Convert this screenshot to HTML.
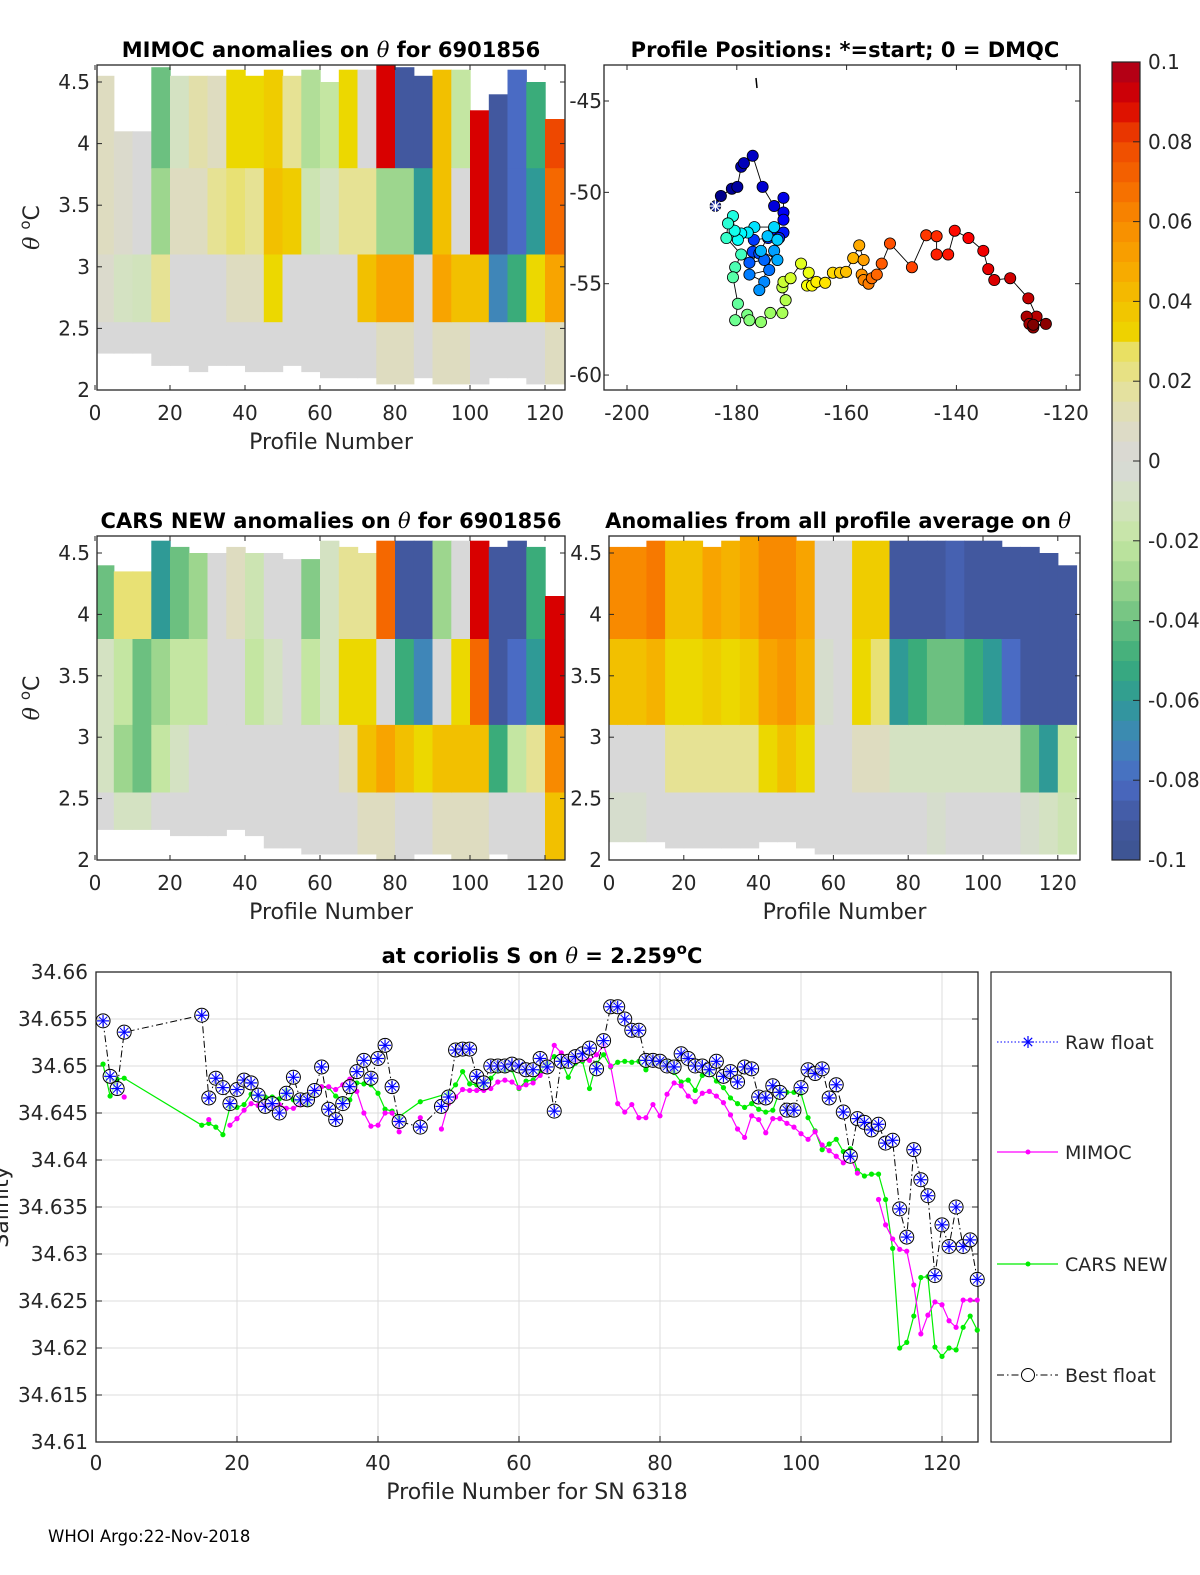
<!DOCTYPE html>
<html><head><meta charset="utf-8"><title>Argo float 6901856 anomalies</title>
<style>
html,body{margin:0;padding:0;background:#fff;overflow:hidden;}
svg{display:block;font-family:"DejaVu Sans","Liberation Sans",sans-serif;}
.tk{font-size:20px;fill:#262626;}
.ttl{font-size:21px;font-weight:bold;fill:#000;}
.lbl{font-size:22px;fill:#262626;}
.lg{font-size:19px;fill:#262626;}
</style></head>
<body>
<svg id="fig" width="1200" height="1575" viewBox="0 0 1200 1575" xmlns="http://www.w3.org/2000/svg">
<rect x="0" y="0" width="1200" height="1575" fill="#fff"/>
<g id="p1"></g>
<g id="p2"></g>
<g id="cb"></g>
<g id="p3"></g>
<g id="p4"></g>
<g id="p5"></g>
<text x="48" y="1542" style="font-size:16.5px;fill:#000">WHOI Argo:22-Nov-2018</text>
</svg>
<script>
// ---------- heatmap data (blocks of 5 profiles; rows: top band, mid band, lower band, bottom band) ----------
const mimocUp  = [0.01,0.005,0.0,-0.04,-0.01,0.015,0.01,0.03,0.03,0.035,0.02,-0.025,-0.02,0.03,0.0,0.09,-0.09,-0.09,0.04,-0.02,0.09,-0.09,-0.08,-0.05,0.08];
const mimocMid = [0.01,0.005,0.0,-0.03,0.01,0.01,0.02,0.025,0.02,0.04,0.035,-0.015,-0.01,0.02,0.02,-0.03,-0.03,-0.06,0.04,0.0,0.09,-0.09,-0.08,-0.06,0.07];
const mimocLow = [0.005,-0.01,-0.012,0.02,0.0,0.0,0.0,0.01,0.01,0.03,0.0,0.0,0.0,0.0,0.04,0.05,0.05,0.0,0.05,0.04,0.04,-0.07,-0.05,0.03,0.05];
const mimocBot = [0,0,0,0,0,0,0,0,0,0,0,0,0,0,0,0.01,0.01,0,0.01,0.01,0,0,0,0,0.01];
const mimocTop = [4.55,4.1,4.1,4.62,4.55,4.55,4.55,4.6,4.55,4.6,4.55,4.6,4.5,4.6,4.6,4.65,4.62,4.55,4.6,4.6,4.27,4.4,4.6,4.5,4.2];
const mimocBottom = [2.3,2.3,2.3,2.2,2.2,2.15,2.2,2.2,2.15,2.15,2.2,2.15,2.1,2.1,2.1,2.05,2.05,2.1,2.05,2.05,2.05,2.1,2.1,2.05,2.05];

const carsUp  = [-0.04,0.025,0.025,-0.06,-0.04,-0.03,0.0,0.01,-0.015,0.0,0.0,-0.035,-0.01,0.02,0.02,0.07,-0.09,-0.09,-0.03,0.0,0.09,-0.09,-0.09,-0.05,0.09];
const carsMid = [-0.01,-0.02,-0.04,-0.03,-0.02,-0.02,0.0,0.0,-0.02,-0.01,0.0,-0.02,-0.01,0.03,0.03,0.0,-0.05,-0.07,0.0,0.03,0.07,-0.09,-0.08,-0.06,0.09];
const carsLow = [-0.01,-0.03,-0.04,-0.02,-0.01,0.0,0.0,0.0,0.0,0.0,0.0,0.0,0.0,0.01,0.04,0.05,0.04,0.03,0.04,0.04,0.04,-0.05,-0.02,0.02,0.06];
const carsBot = [0,-0.01,-0.01,0,0,0,0,0,0,0,0,0,0,0,0.01,0.01,0,0,0.01,0.01,0.01,0,0,0,0.04];
const carsTop = [4.4,4.35,4.35,4.6,4.55,4.5,4.5,4.55,4.5,4.5,4.45,4.45,4.6,4.55,4.5,4.6,4.6,4.6,4.6,4.6,4.6,4.55,4.6,4.55,4.15];
const carsBottom = [2.25,2.25,2.25,2.25,2.2,2.2,2.2,2.25,2.2,2.1,2.1,2.05,2.05,2.05,2.05,2.0,2.0,2.05,2.05,2.0,2.0,2.05,2.0,2.0,2.0];

const avgUp  = [0.06,0.06,0.065,0.04,0.04,0.05,0.045,0.05,0.06,0.06,0.05,0.0,0.0,0.035,0.035,-0.09,-0.09,-0.09,-0.085,-0.09,-0.09,-0.09,-0.09,-0.09,-0.09];
const avgMid = [0.04,0.04,0.045,0.03,0.03,0.035,0.03,0.035,0.05,0.055,0.045,-0.005,0.0,0.03,0.025,-0.06,-0.05,-0.04,-0.04,-0.05,-0.06,-0.08,-0.09,-0.09,-0.09];
const avgLow = [0.0,0.0,0.0,0.02,0.02,0.02,0.02,0.02,0.03,0.04,0.03,0.0,0.0,0.01,0.01,-0.01,-0.01,-0.01,-0.01,-0.01,-0.01,-0.01,-0.04,-0.06,-0.02];
const avgBot = [-0.005,-0.005,0,0,0,0,0,0,0,0,0,0,0,0,0,0,0,-0.005,0,0,0,0,-0.005,-0.01,-0.015];
const avgTop = [4.55,4.55,4.6,4.6,4.6,4.55,4.6,4.65,4.65,4.65,4.6,4.6,4.6,4.6,4.6,4.6,4.6,4.6,4.6,4.6,4.6,4.55,4.55,4.5,4.4];
const avgBottom = [2.15,2.15,2.15,2.1,2.1,2.1,2.1,2.1,2.15,2.15,2.1,2.05,2.05,2.05,2.05,2.05,2.05,2.05,2.05,2.05,2.05,2.05,2.05,2.05,2.05];

// ---------- map track data ----------
const trackLon = [-183.9,-182.9,-180.9,-179.9,-179.2,-178.7,-177.1,-175.3,-173.2,-171.5,-171.5,-171.5,-173.2,-171.5,-172.3,-174.3,-176.9,-177.1,-175.9,-177.7,-175.0,-174.1,-177.7,-175.0,-175.9,-173.2,-172.6,-175.6,-174.4,-172.6,-173.2,-176.8,-178.0,-179.2,-179.8,-180.4,-180.7,-181.6,-181.9,-179.2,-180.3,-180.7,-179.8,-180.3,-178.1,-177.7,-175.6,-173.9,-171.7,-171.1,-171.7,-171.5,-170.2,-168.3,-166.9,-167.2,-166.3,-165.5,-163.9,-162.5,-161.2,-160.1,-158.8,-157.7,-156.9,-157.25,-156.9,-156.0,-155.4,-154.5,-153.6,-152.1,-148.1,-145.5,-143.6,-143.6,-141.5,-140.3,-137.8,-135.1,-134.2,-133.1,-130.2,-126.9,-125.4,-127.2,-126.7,-126.0,-123.7,-126.0];
const trackLat = [-50.75,-50.2,-49.8,-49.7,-48.6,-48.4,-48.0,-49.7,-50.75,-50.3,-51.1,-51.5,-52.0,-52.2,-52.5,-52.5,-52.6,-53.25,-53.35,-53.85,-53.7,-54.25,-54.5,-54.9,-55.35,-53.2,-53.7,-53.2,-52.4,-52.6,-51.9,-51.9,-52.2,-52.25,-52.6,-52.1,-51.3,-51.7,-52.5,-53.4,-54.1,-54.65,-56.1,-57.0,-56.7,-57.0,-57.1,-56.6,-56.6,-55.9,-55.2,-54.9,-54.7,-53.9,-54.4,-55.1,-55.1,-54.9,-54.95,-54.4,-54.4,-54.35,-53.6,-52.9,-53.7,-54.5,-54.8,-55.0,-54.7,-54.5,-53.9,-52.8,-54.1,-52.35,-52.4,-53.4,-53.4,-52.1,-52.5,-53.2,-54.2,-54.8,-54.7,-55.8,-56.8,-56.8,-57.2,-57.4,-57.2,-57.25];

// ---------- salinity series (profiles 1..125, null = missing) ----------
const bestS = [34.6548,34.6489,34.6476,34.6536,null,null,null,null,null,null,null,null,null,null,34.6554,34.6466,34.6487,34.6477,34.646,34.6475,34.6485,34.6482,34.6469,34.6457,34.646,34.645,34.6471,34.6488,34.6464,34.6464,34.6474,34.6499,34.6454,34.6443,34.646,34.6478,34.6494,34.6506,34.6487,34.6508,34.6522,34.6478,34.6441,null,null,34.6435,null,null,34.6457,34.6467,34.6517,34.6518,34.6518,34.6489,34.6482,34.65,34.65,34.65,34.6502,34.65,34.6496,34.6496,34.6508,34.6499,34.6452,34.6505,34.6505,34.651,34.6513,34.6519,34.6497,34.6527,34.6563,34.6563,34.655,34.6538,34.6538,34.6506,34.6506,34.6505,34.65,34.6499,34.6513,34.6508,34.65,34.65,34.6496,34.6505,34.6489,34.6494,34.6483,34.6499,34.6497,34.6467,34.6466,34.6479,34.6472,34.6453,34.6453,34.6477,34.6496,34.6492,34.6497,34.6466,34.648,34.6451,34.6404,34.6444,34.644,34.6432,34.6438,34.6418,34.6421,34.6348,34.6318,34.6411,34.6379,34.6362,34.6277,34.6331,34.6308,34.635,34.6308,34.6315,34.6273];
const mimocS = [null,null,null,34.6467,null,null,null,null,null,null,null,null,null,null,null,34.6443,null,null,34.6437,34.6444,34.6453,34.646,34.6458,34.6459,34.6457,34.6459,34.6455,34.6455,34.6459,34.6464,34.6474,34.6478,34.6478,34.6475,34.648,34.6486,34.6473,34.645,34.6436,34.6437,34.645,34.645,34.643,null,null,34.6445,null,null,34.6433,34.646,34.6467,34.6475,34.6474,34.6474,34.6474,34.6476,34.6483,34.6485,34.6483,34.6477,34.648,34.6482,34.649,34.6496,34.6522,34.6514,34.6506,34.6505,34.6507,34.6506,34.6512,34.6522,34.65,34.646,34.6451,34.6459,34.6445,34.6445,34.6459,34.6447,34.647,34.6482,34.6479,34.6468,34.6462,34.6471,34.6473,34.6468,34.6461,34.6448,34.6433,34.6424,34.6447,34.6443,34.6429,34.6444,34.6444,34.6439,34.6435,34.6428,34.6422,34.643,34.6416,34.641,34.6404,34.6397,34.6403,34.6386,null,null,34.6358,34.6331,34.6316,34.6305,34.6303,34.6267,34.6215,34.6235,34.6249,34.6246,34.6229,34.6222,34.6251,34.6251,34.6251];
const carsS = [34.6502,34.6468,34.6486,34.6487,null,null,null,null,null,null,null,null,null,null,34.6437,34.6439,34.6435,34.6427,34.6456,34.6456,34.6459,34.647,34.6468,34.6467,34.6467,34.6465,34.6474,34.6464,34.6461,34.6459,34.6473,34.6478,34.6477,34.6468,34.6465,34.6464,34.6482,34.6481,34.648,34.6471,34.6454,34.6452,34.6446,null,null,34.6462,null,null,null,34.6471,34.648,34.6494,34.6481,34.648,34.6479,34.6487,34.6495,34.6495,34.6496,34.6476,34.6484,34.6485,34.6494,34.6503,34.651,34.6505,34.6488,34.6503,34.6505,34.6476,34.6503,34.6512,34.6499,34.6504,34.6505,34.6504,34.6505,34.6496,34.6504,34.6505,34.6504,34.6493,34.6483,34.6485,34.6474,34.649,34.6493,34.6484,34.6477,34.6466,34.646,34.6456,34.646,34.6454,34.6451,34.6453,34.6474,34.6472,34.6472,34.6471,34.6445,34.6431,34.6411,34.6417,34.6422,34.6409,34.6412,34.6389,34.6383,34.6385,34.6385,34.6358,34.6306,34.62,34.6206,34.6234,34.6275,34.6276,34.6201,34.6191,34.62,34.6198,34.6222,34.6234,34.6219];
const salTicks = ["34.61","34.615","34.62","34.625","34.63","34.635","34.64","34.645","34.65","34.655","34.66"];
const profTicks = [0,20,40,60,80,100,120];
const thetaTicks = [2,2.5,3,3.5,4,4.5];
const latTicks = [-45,-50,-55,-60];
const lonTicks = [-200,-180,-160,-140,-120];
const cbTicks = [-0.1,-0.08,-0.06,-0.04,-0.02,0,0.02,0.04,0.06,0.08,0.1];

const NS = "http://www.w3.org/2000/svg";
function mk(tag, attrs, parent){
  const e = document.createElementNS(NS, tag);
  for (const k in attrs) e.setAttribute(k, attrs[k]);
  if (parent) parent.appendChild(e);
  return e;
}
const stops = [[-0.1,'#3d5490'],[-0.09,'#42589f'],[-0.08,'#4a6bc4'],[-0.07,'#3f86b8'],[-0.06,'#2f9a96'],[-0.05,'#3aac7a'],[-0.04,'#6cc080'],[-0.03,'#9dd68e'],[-0.02,'#c4e6a2'],[-0.01,'#d4e2c2'],[0,'#d8d8d8'],[0.01,'#dedcc0'],[0.02,'#e6e294'],[0.028,'#e9e060'],[0.03,'#ecd800'],[0.04,'#f2c000'],[0.05,'#f8a400'],[0.06,'#f88a00'],[0.07,'#f56800'],[0.08,'#ee4800'],[0.09,'#d80000'],[0.1,'#a8001c']];
function hex(h){return [parseInt(h.substr(1,2),16),parseInt(h.substr(3,2),16),parseInt(h.substr(5,2),16)];}
function anomColor(v){
  v = Math.max(-0.1, Math.min(0.1, v));
  for (let i=0;i<stops.length-1;i++){
    if (v>=stops[i][0] && v<=stops[i+1][0]){
      const t=(v-stops[i][0])/(stops[i+1][0]-stops[i][0]);
      const a=hex(stops[i][1]), b=hex(stops[i+1][1]);
      return 'rgb('+a.map((c,j)=>Math.round(c+(b[j]-c)*t)).join(',')+')';
    }
  }
  return stops[0][1];
}
function jet(t){
  const r=Math.min(4*t-1.5,-4*t+4.5), g=Math.min(4*t-0.5,-4*t+3.5), b=Math.min(4*t+0.5,-4*t+2.5);
  const c=x=>Math.round(255*Math.max(0,Math.min(1,x)));
  return 'rgb('+c(r)+','+c(g)+','+c(b)+')';
}

// ---------- heatmap panel ----------
function heatPanel(gid, cfg){
  const g = document.getElementById(gid);
  const X0=cfg.x0, X1=cfg.x1, Y0=cfg.y0, Y1=cfg.y1;
  const xs = p => cfg.px0 + p*cfg.pxs;
  const ys = th => cfg.py2 - (th-2)*cfg.pyth;
  const cells = mk('g',{},g);
  
  
  for (let i=0;i<cfg.up.length;i++){
    let xa = Math.max(X0, xs(i*5)), xb = Math.min(X1, xs(i*5+5));
    if (xb<=xa) continue;
    const bands = [[cfg.top[i],3.8,cfg.up[i]],[3.8,3.1,cfg.mid[i]],[3.1,2.55,cfg.low[i]],[2.55,cfg.bottom[i],cfg.bot[i]]];
    bands.forEach(b=>{
      let ya = Math.max(Y0, ys(b[0])), yb = Math.min(Y1, ys(b[1]));
      if (yb<=ya) return;
      const r = mk('rect',{x:xa.toFixed(1),y:ya.toFixed(1),width:(xb-xa+0.6).toFixed(1),height:(yb-ya+0.6).toFixed(1),fill:anomColor(b[2])},cells);
      
      
    });
  }
  const box = mk('rect',{x:X0,y:Y0,width:X1-X0,height:Y1-Y0,fill:'none',stroke:'#262626','stroke-width':1.3},g);
  
  
  profTicks.forEach(t=>{
    const x=xs(t);
    if (x<X0-4||x>X1+4) return;
    mk('line',{x1:x,y1:Y1,x2:x,y2:Y1-5,stroke:'#262626'},g);
    mk('line',{x1:x,y1:Y0,x2:x,y2:Y0+5,stroke:'#262626'},g);
    const tx = mk('text',{x:x,y:Y1+30,'text-anchor':'middle',class:'tk'},g);
    tx.textContent = t;
    
    
  });
  thetaTicks.forEach(t=>{
    const y=ys(t);
    mk('line',{x1:X0,y1:y,x2:X0+5,y2:y,stroke:'#262626'},g);
    mk('line',{x1:X1,y1:y,x2:X1-5,y2:y,stroke:'#262626'},g);
    const tx = mk('text',{x:X0-7,y:y+7,'text-anchor':'end',class:'tk'},g);
    tx.textContent = t;
    
    
  });
  if (cfg.ylabel){
    const yl = mk('text',{x:0,y:0,transform:'translate('+(X0-58)+','+((Y0+Y1)/2)+') rotate(-90)','text-anchor':'middle',class:'lbl'},g);
    yl.innerHTML = '<tspan font-family="DejaVu Serif, serif" font-style="italic">θ</tspan> <tspan dy="-9" font-size="15">o</tspan><tspan dy="9">C</tspan>';
    
    
  }
  if (cfg.xlabel){
    const xl = mk('text',{x:(X0+X1)/2,y:Y1+59,'text-anchor':'middle',class:'lbl'},g);
    xl.textContent = 'Profile Number';
    
    
  }
  const tt = mk('text',{x:cfg.tx,y:cfg.ty,'text-anchor':'middle',class:'ttl'},g);
  tt.innerHTML = cfg.title;
  
  
}
const TH = '<tspan font-family="DejaVu Serif, serif" font-style="italic" font-weight="normal">θ</tspan>';
heatPanel('p1',{x0:97,x1:565,y0:65,y1:390,px0:95,pxs:3.75,py2:390,pyth:123.2,up:mimocUp,mid:mimocMid,low:mimocLow,bot:mimocBot,top:mimocTop,bottom:mimocBottom,ylabel:true,xlabel:true,title:'MIMOC anomalies on '+TH+'  for 6901856',tx:331,ty:57});
heatPanel('p3',{x0:97,x1:565,y0:536,y1:860,px0:95,pxs:3.75,py2:860,pyth:122.8,up:carsUp,mid:carsMid,low:carsLow,bot:carsBot,top:carsTop,bottom:carsBottom,ylabel:true,xlabel:true,title:'CARS NEW anomalies on '+TH+' for 6901856',tx:331,ty:528});
heatPanel('p4',{x0:609,x1:1080,y0:536,y1:860,px0:609,pxs:3.74,py2:860,pyth:122.8,up:avgUp,mid:avgMid,low:avgLow,bot:avgBot,top:avgTop,bottom:avgBottom,ylabel:false,xlabel:true,title:'Anomalies from all profile average on '+TH,tx:838,ty:528});

// ---------- map ----------
(function(){
  const g=document.getElementById('p2');
  const lx = lon => 627 + (lon+200)*5.49;
  const ly = lat => 101 + (-45-lat)*18.27;
  const X0=604,X1=1080,Y0=65,Y1=390;
  mk('rect',{x:X0,y:Y0,width:X1-X0,height:Y1-Y0,fill:'#fff',stroke:'#262626','stroke-width':1.3},g);
  lonTicks.forEach(t=>{
    const x=lx(t);
    mk('line',{x1:x,y1:Y1,x2:x,y2:Y1-5,stroke:'#262626'},g);
    mk('line',{x1:x,y1:Y0,x2:x,y2:Y0+5,stroke:'#262626'},g);
    const tx=mk('text',{x:x,y:Y1+30,'text-anchor':'middle',class:'tk'},g);
    tx.textContent=t;
    
    
  });
  latTicks.forEach(t=>{
    const y=ly(t);
    mk('line',{x1:X0,y1:y,x2:X0+5,y2:y,stroke:'#262626'},g);
    mk('line',{x1:X1,y1:y,x2:X1-5,y2:y,stroke:'#262626'},g);
    const tx=mk('text',{x:X0-2,y:y+7,'text-anchor':'end',class:'tk'},g);
    tx.textContent=t;
    
    
  });
  const pts = trackLon.map((lo,i)=>lx(lo).toFixed(1)+','+ly(trackLat[i]).toFixed(1)).join(' ');
  const pl=mk('polyline',{points:pts,fill:'none',stroke:'#000','stroke-width':0.9},g);
  
  
  const n=trackLon.length;
  for (let i=1;i<n;i++){
    const c=mk('circle',{cx:lx(trackLon[i]),cy:ly(trackLat[i]),r:5.6,fill:jet(i/(n-1)),stroke:'#000','stroke-width':0.8},g);
    
    
  }
  const sx=lx(trackLon[0]), sy=ly(trackLat[0]);
  const st=mk('g',{},g);
  
  
  mk('circle',{cx:sx,cy:sy,r:5.5,fill:'#1a2a9a',stroke:'#000','stroke-width':0.6},st);
  for (let a=0;a<4;a++){const an=a*Math.PI/4;mk('line',{x1:sx-6*Math.cos(an),y1:sy-6*Math.sin(an),x2:sx+6*Math.cos(an),y2:sy+6*Math.sin(an),stroke:'#fff','stroke-width':1.2},st);}
  mk('line',{x1:756,y1:78,x2:757,y2:88,stroke:'#000','stroke-width':1.5},g);
  const tt=mk('text',{x:845,y:57,'text-anchor':'middle',class:'ttl'},g);
  tt.textContent='Profile Positions: *=start; 0 = DMQC';
  
  
})();

// ---------- colorbar ----------
(function(){
  const g=document.getElementById('cb');
  const X0=1112,X1=1140,Y0=62,Y1=860;
  const vy = v => Y1 - (v+0.1)/0.2*(Y1-Y0);
  for (let k=0;k<40;k++){
    const v0=-0.1+k*0.005, v=v0+0.0025;
    mk('rect',{x:X0,y:vy(v0+0.005),width:X1-X0,height:(Y1-Y0)/40+0.5,fill:anomColor(v)},g);
  }
  mk('rect',{x:X0,y:Y0,width:X1-X0,height:Y1-Y0,fill:'none',stroke:'#262626','stroke-width':1.2},g);
  cbTicks.forEach(t=>{
    const y=vy(t);
    mk('line',{x1:X1,y1:y,x2:X1-7,y2:y,stroke:'#262626'},g);
    const tx=mk('text',{x:1148,y:y+7,class:'tk'},g);
    tx.textContent = (Math.abs(t)<1e-9)?'0':String(+t.toFixed(2));
    
    
  });
})();

// ---------- salinity chart ----------
(function(){
  const g=document.getElementById('p5');
  const X0=96,X1=978,Y0=972,Y1=1442;
  const xs = p => 96 + p*7.05;
  const ys = s => 972 + (34.66-s)*9400;
  mk('rect',{x:X0,y:Y0,width:X1-X0,height:Y1-Y0,fill:'#fff'},g);
  profTicks.forEach(t=>{
    const x=xs(t);
    mk('line',{x1:x,y1:Y0,x2:x,y2:Y1,stroke:'#dcdcdc','stroke-width':1},g);
    mk('line',{x1:x,y1:Y1,x2:x,y2:Y1-6,stroke:'#262626'},g);
    const tx=mk('text',{x:x,y:Y1+28,'text-anchor':'middle',class:'tk'},g);
    tx.textContent=t;
    
    
  });
  salTicks.forEach(t=>{
    const y=ys(parseFloat(t));
    mk('line',{x1:X0,y1:y,x2:X1,y2:y,stroke:'#dcdcdc','stroke-width':1},g);
    mk('line',{x1:X0,y1:y,x2:X0+6,y2:y,stroke:'#262626'},g);
    mk('line',{x1:X1,y1:y,x2:X1-6,y2:y,stroke:'#262626'},g);
    const tx=mk('text',{x:X0-8,y:y+7,'text-anchor':'end',class:'tk'},g);
    tx.textContent=t;
    
    
  });
  mk('rect',{x:X0,y:Y0,width:X1-X0,height:Y1-Y0,fill:'none',stroke:'#262626','stroke-width':1.3},g);
  function path(arr, bridge){
    let d='', pen=false;
    arr.forEach((v,i)=>{
      if (v===null){ if(!bridge) pen=false; return; }
      d += (pen?'L':'M')+xs(i+1).toFixed(1)+','+ys(v).toFixed(1);
      pen=true;
    });
    return d;
  }
  const gl=mk('path',{d:path(carsS,true),fill:'none',stroke:'#00ee00','stroke-width':1.2},g);
  
  
  const ml=mk('path',{d:path(mimocS,false),fill:'none',stroke:'#ff00ff','stroke-width':1.2},g);
  
  
  carsS.forEach((v,i)=>{ if(v===null) return;
    const c=mk('circle',{cx:xs(i+1),cy:ys(v),r:2.6,fill:'#00ee00'},g);
    
    
  });
  mimocS.forEach((v,i)=>{ if(v===null) return;
    const c=mk('circle',{cx:xs(i+1),cy:ys(v),r:2.6,fill:'#ff00ff'},g);
    
    
  });
  const bl=mk('path',{d:path(bestS,true),fill:'none',stroke:'#000','stroke-width':1,'stroke-dasharray':'7,3,1.5,3'},g);
  
  
  bestS.forEach((v,i)=>{ if(v===null) return;
    const x=xs(i+1), y=ys(v);
    const m=mk('g',{},g);
    
    
    mk('circle',{cx:x,cy:y,r:7,fill:'#fff','fill-opacity':0.6,stroke:'#000','stroke-width':1},m);
    mk('line',{x1:x-6,y1:y,x2:x+6,y2:y,stroke:'#0000ff','stroke-width':1.2},m);
    mk('line',{x1:x,y1:y-6,x2:x,y2:y+6,stroke:'#0000ff','stroke-width':1.2},m);
    mk('line',{x1:x-4.2,y1:y-4.2,x2:x+4.2,y2:y+4.2,stroke:'#0000ff','stroke-width':1},m);
    mk('line',{x1:x-4.2,y1:y+4.2,x2:x+4.2,y2:y-4.2,stroke:'#0000ff','stroke-width':1},m);
  });
  const tt=mk('text',{x:542,y:963,'text-anchor':'middle',class:'ttl'},g);
  tt.innerHTML='at coriolis S on '+TH+' = 2.259<tspan dy="-9" font-size="15">o</tspan><tspan dy="9">C</tspan>';
  
  
  const xl=mk('text',{x:537,y:1499,'text-anchor':'middle',class:'lbl'},g);
  xl.textContent='Profile Number for SN 6318';
  
  
  const yl=mk('text',{x:0,y:0,transform:'translate(8,1207) rotate(-90)','text-anchor':'middle',class:'lbl'},g);
  yl.textContent='Salinity';
  
  
  // legend
  const lg=mk('g',{},g);
  
  
  mk('rect',{x:991,y:972,width:180,height:470,fill:'#fff',stroke:'#262626','stroke-width':1.2},lg);
  const entries=[['Raw float',1042],['MIMOC',1152],['CARS NEW',1264],['Best float',1375]];
  entries.forEach((e,k)=>{
    const ge=mk('g',{},lg);
    
    
    const y=e[1], xm=1028;
    if(k===0){
      mk('line',{x1:997,y1:y,x2:1058,y2:y,stroke:'#0000ff','stroke-dasharray':'1.5,2'},ge);
      [[6,0],[0,6],[4.2,4.2],[4.2,-4.2]].forEach(d=>mk('line',{x1:xm-d[0],y1:y-d[1],x2:xm+d[0],y2:y+d[1],stroke:'#0000ff','stroke-width':1.2},ge));
    } else if(k===1){
      mk('line',{x1:997,y1:y,x2:1058,y2:y,stroke:'#ff00ff','stroke-width':1.2},ge);
      mk('circle',{cx:xm,cy:y,r:2.5,fill:'#ff00ff'},ge);
    } else if(k===2){
      mk('line',{x1:997,y1:y,x2:1058,y2:y,stroke:'#00ee00','stroke-width':1.2},ge);
      mk('circle',{cx:xm,cy:y,r:2.5,fill:'#00ee00'},ge);
    } else {
      mk('line',{x1:997,y1:y,x2:1058,y2:y,stroke:'#000','stroke-dasharray':'7,3,1.5,3'},ge);
      mk('circle',{cx:xm,cy:y,r:6.5,fill:'#fff',stroke:'#000'},ge);
    }
    const tx=mk('text',{x:1065,y:y+7,class:'lg'},ge);
    tx.textContent=e[0];
  });
})();
</script>
</body></html>
